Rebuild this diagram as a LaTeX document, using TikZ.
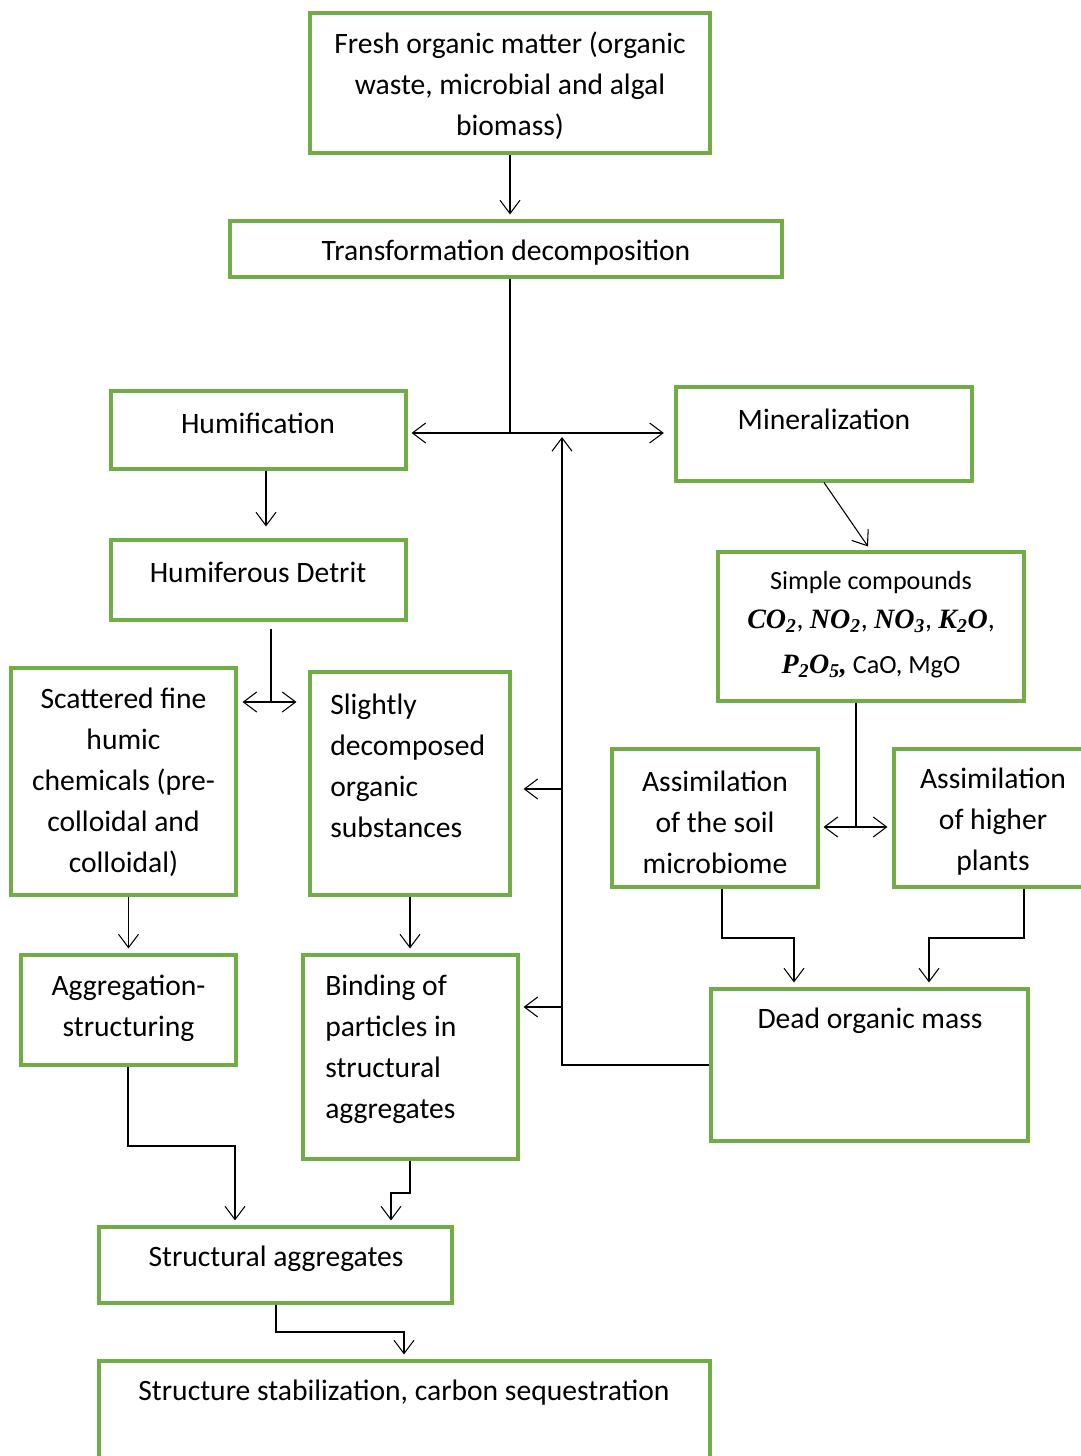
\documentclass[tikz,border=0pt]{standalone}
\usepackage{fontspec}
\setmainfont{Carlito}
\newfontfamily\formula{Liberation Serif}
\usetikzlibrary{arrows.meta,fit,calc}
\definecolor{boxgreen}{RGB}{112,173,71}
\begin{document}
\begin{tikzpicture}[x=0.75pt,y=-0.75pt,
  box/.style={draw=boxgreen, line width=2.3pt, inner sep=0pt, rectangle},
  txt/.style={inner sep=0pt, align=center, font={\fontsize{22.2}{30.75}\selectfont}},
  ltxt/.style={inner sep=0pt, align=left, anchor=west, font={\fontsize{22.2}{30.75}\selectfont}},
  stxt/.style={inner sep=0pt, font={\fontsize{19.6}{24}\selectfont}},
  ftxt/.style={inner sep=0pt, font={\fontsize{21}{24}\selectfont}},
  conn/.style={line width=0.8pt, black},
  >={Straight Barb[length=10pt,width=15pt]}]
\useasboundingbox (0,0) rectangle (1081,1456);

% boxes
\node[box, fit={(310,13) (710,153)}] (fresh) {};
\node[box, fit={(230,221) (782,277)}] (trans) {};
\node[box, fit={(111,391) (406,469)}] (humif) {};
\node[box, fit={(676,387) (972,481)}] (miner) {};
\node[box, fit={(111,540) (406,620)}] (humfer) {};
\node[box, fit={(718,552) (1024,701)}] (simple) {};
\node[box, fit={(11,668) (236,895)}] (scatter) {};
\node[box, fit={(310,672) (510,895)}] (slight) {};
\node[box, fit={(612,749) (818,887)}] (asoil) {};
\node[box, fit={(894,749) (1095,887)}] (aplant) {};
\node[box, fit={(21,955) (236,1065)}] (aggreg) {};
\node[box, fit={(303,955) (518,1159)}] (binding) {};
\node[box, fit={(711,989) (1028,1141)}] (dead) {};
\node[box, fit={(99,1227) (452,1303)}] (struct) {};
\node[box, fit={(99,1361) (710,1475)}] (final) {};

% texts
\node[txt] (fresh-t) at (510,86) {Fresh organic matter (organic\\waste, microbial and algal\\biomass)};
\node[txt] (trans-t) at (506,253) {Transformation decomposition};
\node[txt] (humif-t) at (258,423) {Humification};
\node[txt] (miner-t) at (824,419) {Mineralization};
\node[txt] (humfer-t) at (258,572) {Humiferous Detrit};
\node[stxt] (simple-t1) at (871,583) {Simple compounds};
\node[ftxt] (simple-t2) at (871,621) {{\formula\bfseries\itshape CO\textsubscript{2}}, {\formula\bfseries\itshape NO\textsubscript{2}}, {\formula\bfseries\itshape NO\textsubscript{3}}, {\formula\bfseries\itshape K\textsubscript{2}O},};
\node[stxt] (simple-t3) at (871,666) {{\fontsize{21}{24}\selectfont\formula\bfseries\itshape P\textsubscript{2}O\textsubscript{5},} CaO, MgO};
\node[txt] (scatter-t) at (123.5,782) {Scattered fine\\humic\\chemicals (pre-\\colloidal and\\colloidal)};
\node[ltxt] (slight-t) at (330,765.5) {Slightly\\decomposed\\organic\\substances};
\node[txt] (asoil-t) at (715,822) {Assimilation\\of the soil\\microbiome};
\node[txt] (aplant-t) at (993,822) {Assimilation\\of higher\\plants};
\node[txt] (aggreg-t) at (128.5,1008) {Aggregation-\\structuring};
\node[ltxt] (binding-t) at (325,1049.5) {Binding of\\particles in\\structural\\aggregates};
\node[txt] (dead-t) at (870,1021) {Dead organic mass};
\node[txt] (struct-t) at (276,1259) {Structural aggregates};
\node[txt] (final-t) at (404,1393) {Structure stabilization, carbon sequestration};

% junction coordinates
\coordinate (split) at (510,433);
\coordinate (dj) at (562,1065);
\coordinate (b1) at (562,789);
\coordinate (b2) at (562,1007);
\coordinate (hs) at (271,702);
\coordinate (ss) at (856,827);
\coordinate (a1) at (722,938);
\coordinate (a2) at (794,938);
\coordinate (p1) at (1024,938);
\coordinate (p2) at (929,938);
\coordinate (g1) at (128,1146);
\coordinate (g2) at (235,1146);
\coordinate (n1) at (410,1193);
\coordinate (n2) at (391,1193);
\coordinate (s1) at (276,1332);
\coordinate (s2) at (404,1332);

% connectors
\draw[conn,->,shorten >=3.75pt] (fresh.south) -- (fresh.south |- trans.north);
\draw[conn] (trans.south -| split) -- (split);
\draw[conn,<->,shorten <=3pt,shorten >=8pt] (humif.east |- split) -- (miner.west |- split);
\draw[conn,->,shorten >=3pt] (dead.west |- dj) -- (dj) -- (dj |- split);
\draw[conn,->,shorten >=9pt] (b1) -- (slight.east |- b1);
\draw[conn,->,shorten >=3pt] (b2) -- (binding.east |- b2);
\draw[conn,->,shorten >=9pt] ($(humif.south)+(7.5,0)$) -- ($(humfer.north)+(7.5,0)$);
\draw[conn,->] (miner.south) -- ($(simple.north)+(-3,-4)$);
\draw[conn] ($(humfer.south)+(12.5,7)$) -- (hs);
\draw[conn,<->,shorten <=3.75pt,shorten >=9pt] (scatter.east |- hs) -- (slight.west |- hs);
\draw[conn] (simple.south -| ss) -- (ss);
\draw[conn,<->,shorten <=3pt,shorten >=3.75pt] (asoil.east |- ss) -- (aplant.west |- ss);
\draw[conn,->,shorten >=3.75pt] (aggreg.north |- scatter.south) -- (aggreg.north);
\draw[conn,->,shorten >=3.75pt] (slight.south) -- (slight.south |- binding.north);
\draw[conn,->,shorten >=3.75pt] (asoil.south -| a1) -- (a1) -- (a2) -- (a2 |- dead.north);
\draw[conn,->,shorten >=3.75pt] (aplant.south -| p1) -- (p1) -- (p2) -- (p2 |- dead.north);
\draw[conn,->,shorten >=3.75pt] (aggreg.south -| g1) -- (g1) -- (g2) -- (g2 |- struct.north);
\draw[conn,->,shorten >=3.75pt] (binding.south -| n1) -- (n1) -- (n2) -- (n2 |- struct.north);
\draw[conn,->,shorten >=3.75pt] (struct.south -| s1) -- (s1) -- (s2) -- (s2 |- final.north);
\end{tikzpicture}
\end{document}
